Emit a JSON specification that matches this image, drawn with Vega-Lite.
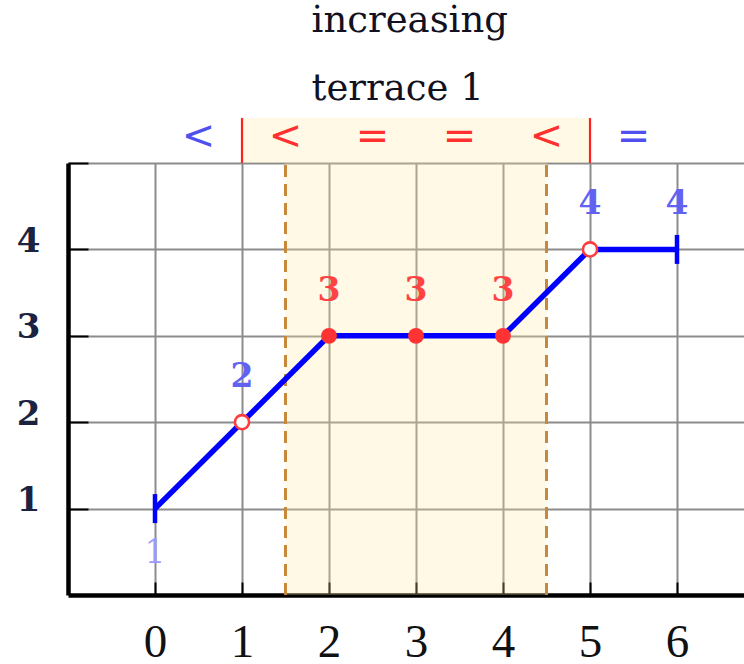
{
  "$schema": "https://vega.github.io/schema/vega-lite/v6.json",
  "width": 676,
  "height": 432,
  "autosize": {"type": "none"},
  "padding": {"left": 68, "top": 163, "right": 0, "bottom": 69},
  "background": "white",
  "config": {
    "view": {"stroke": null},
    "axisX": {
      "zindex": 0,
      "domainColor": "#000000",
      "domainWidth": 4.5,
      "tickColor": "#000000",
      "tickWidth": 2,
      "tickSize": -13,
      "grid": true,
      "gridColor": "#8c8c8c",
      "gridWidth": 2,
      "labelFont": "Liberation Serif",
      "labelFontSize": 47,
      "labelColor": "#111111",
      "labelPadding": 37,
      "labelBaseline": "top",
      "labelFlush": false,
      "labelOverlap": false
    },
    "axisY": {
      "zindex": 0,
      "domainColor": "#000000",
      "domainWidth": 4.5,
      "tickColor": "#000000",
      "tickWidth": 2,
      "tickSize": -20,
      "grid": true,
      "gridColor": "#8c8c8c",
      "gridWidth": 2,
      "labelFont": "DejaVu Serif",
      "labelFontWeight": "bold",
      "labelFontSize": 34,
      "labelColor": "#1c2340",
      "labelPadding": 48,
      "labelOffset": -8,
      "labelFlush": false,
      "labelOverlap": false
    }
  },
  "datasets": {
    "path": [
      {"x": 0, "y": 1, "marker": "bar", "tone": "first"},
      {"x": 1, "y": 2, "marker": "open", "tone": "edge"},
      {"x": 2, "y": 3, "marker": "dot", "tone": "terrace"},
      {"x": 3, "y": 3, "marker": "dot", "tone": "terrace"},
      {"x": 4, "y": 3, "marker": "dot", "tone": "terrace"},
      {"x": 5, "y": 4, "marker": "open", "tone": "edge"},
      {"x": 6, "y": 4, "marker": "bar", "tone": "edge"}
    ],
    "steps": [
      {"x": 0.5, "sym": "<", "tone": "outside"},
      {"x": 1.5, "sym": "<", "tone": "inside"},
      {"x": 2.5, "sym": "=", "tone": "inside"},
      {"x": 3.5, "sym": "=", "tone": "inside"},
      {"x": 4.5, "sym": "<", "tone": "inside"},
      {"x": 5.5, "sym": "=", "tone": "outside"}
    ],
    "terrace": [{"start": 1, "end": 5, "inner_start": 1.5, "inner_end": 4.5}],
    "cuts": [{"x": 1.5}, {"x": 4.5}],
    "bounds": [{"x": 1}, {"x": 5}],
    "heading": [{"line1": "increasing", "line2": "terrace 1"}]
  },
  "layer": [
    {
      "data": {"name": "terrace"},
      "mark": {"type": "rect", "fill": "#ffe9a0", "opacity": 0.27},
      "encoding": {
        "x": {
          "field": "inner_start",
          "type": "quantitative",
          "title": null,
          "scale": {"domain": [-1, 6.77], "nice": false, "zero": false},
          "axis": {"values": [0, 1, 2, 3, 4, 5, 6], "format": "d"}
        },
        "x2": {"field": "inner_end"},
        "y": {
          "datum": 0,
          "type": "quantitative",
          "title": null,
          "scale": {"domain": [0, 5], "nice": false},
          "axis": {"values": [1, 2, 3, 4, 5], "format": "d", "labelExpr": "datum.value == 5 ? '' : datum.label"}
        },
        "y2": {"datum": 5}
      }
    },
    {
      "data": {"name": "terrace"},
      "mark": {"type": "rect", "fill": "#ffe9a0", "opacity": 0.27},
      "encoding": {
        "x": {"field": "start", "type": "quantitative", "title": null},
        "x2": {"field": "end"},
        "y": {"datum": 5, "type": "quantitative", "title": null},
        "y2": {"datum": 5.52}
      }
    },
    {
      "data": {"name": "bounds"},
      "mark": {"type": "rule", "stroke": "#ff2020", "strokeWidth": 2.2},
      "encoding": {
        "x": {"field": "x", "type": "quantitative", "title": null},
        "y": {"datum": 5, "type": "quantitative", "title": null},
        "y2": {"datum": 5.52}
      }
    },
    {
      "data": {"name": "cuts"},
      "mark": {"type": "rule", "stroke": "#c8883c", "strokeWidth": 3, "strokeDash": [12, 7]},
      "encoding": {
        "x": {"field": "x", "type": "quantitative", "title": null},
        "y": {"datum": 0, "type": "quantitative", "title": null},
        "y2": {"datum": 5}
      }
    },
    {
      "data": {"name": "path"},
      "mark": {"type": "line", "stroke": "#0000ff", "strokeWidth": 5.5},
      "encoding": {
        "x": {"field": "x", "type": "quantitative", "title": null},
        "y": {"field": "y", "type": "quantitative", "title": null}
      }
    },
    {
      "data": {"name": "path"},
      "transform": [{"filter": "datum.marker == 'bar'"}],
      "mark": {"type": "tick", "orient": "vertical", "color": "#0000ff", "size": 29, "thickness": 4.5, "opacity": 1},
      "encoding": {
        "x": {"field": "x", "type": "quantitative", "title": null},
        "y": {"field": "y", "type": "quantitative", "title": null}
      }
    },
    {
      "data": {"name": "path"},
      "transform": [{"filter": "datum.marker == 'open'"}],
      "mark": {"type": "point", "shape": "circle", "filled": false, "fill": "#ffffff", "fillOpacity": 1, "stroke": "#ff3b3b", "strokeWidth": 2.6, "size": 200, "opacity": 1},
      "encoding": {
        "x": {"field": "x", "type": "quantitative", "title": null},
        "y": {"field": "y", "type": "quantitative", "title": null}
      }
    },
    {
      "data": {"name": "path"},
      "transform": [{"filter": "datum.marker == 'dot'"}],
      "mark": {"type": "circle", "color": "#ff3333", "size": 250, "opacity": 1},
      "encoding": {
        "x": {"field": "x", "type": "quantitative", "title": null},
        "y": {"field": "y", "type": "quantitative", "title": null}
      }
    },
    {
      "data": {"name": "path"},
      "transform": [{"filter": "datum.tone != 'first'"}],
      "mark": {"type": "text", "font": "DejaVu Serif", "fontWeight": "bold", "fontSize": 33, "baseline": "middle", "dy": -45},
      "encoding": {
        "x": {"field": "x", "type": "quantitative", "title": null},
        "y": {"field": "y", "type": "quantitative", "title": null},
        "text": {"field": "y", "type": "quantitative", "format": "d"},
        "color": {
          "field": "tone",
          "type": "nominal",
          "legend": null,
          "scale": {"domain": ["first", "edge", "terrace", "outside", "inside"], "range": ["#9a9aff", "#6262f2", "#ff4242", "#5050f0", "#ff3030"]}
        }
      }
    },
    {
      "data": {"name": "path"},
      "transform": [{"filter": "datum.tone == 'first'"}],
      "mark": {"type": "text", "font": "DejaVu Serif", "fontWeight": "normal", "fontSize": 33, "baseline": "middle", "dy": 44},
      "encoding": {
        "x": {"field": "x", "type": "quantitative", "title": null},
        "y": {"field": "y", "type": "quantitative", "title": null},
        "text": {"field": "y", "type": "quantitative", "format": "d"},
        "color": {
          "field": "tone",
          "type": "nominal",
          "legend": null,
          "scale": {"domain": ["first", "edge", "terrace", "outside", "inside"], "range": ["#9a9aff", "#6262f2", "#ff4242", "#5050f0", "#ff3030"]}
        }
      }
    },
    {
      "data": {"name": "steps"},
      "mark": {"type": "text", "font": "DejaVu Sans", "fontSize": 40, "baseline": "middle"},
      "encoding": {
        "x": {"field": "x", "type": "quantitative", "title": null},
        "y": {"datum": 5.3, "type": "quantitative", "title": null},
        "text": {"field": "sym"},
        "color": {
          "field": "tone",
          "type": "nominal",
          "legend": null,
          "scale": {"domain": ["first", "edge", "terrace", "outside", "inside"], "range": ["#9a9aff", "#6262f2", "#ff4242", "#5050f0", "#ff3030"]}
        }
      }
    },
    {
      "data": {"name": "heading"},
      "mark": {"type": "text", "font": "DejaVu Serif", "fontSize": 37, "align": "left", "baseline": "alphabetic", "color": "#111122"},
      "encoding": {
        "x": {"datum": 1.8, "type": "quantitative", "title": null},
        "y": {"datum": 6.52, "type": "quantitative", "title": null},
        "text": {"field": "line1"}
      }
    },
    {
      "data": {"name": "heading"},
      "mark": {"type": "text", "font": "DejaVu Serif", "fontSize": 37, "align": "left", "baseline": "alphabetic", "color": "#111122"},
      "encoding": {
        "x": {"datum": 1.8, "type": "quantitative", "title": null},
        "y": {"datum": 5.728, "type": "quantitative", "title": null},
        "text": {"field": "line2"}
      }
    }
  ]
}
